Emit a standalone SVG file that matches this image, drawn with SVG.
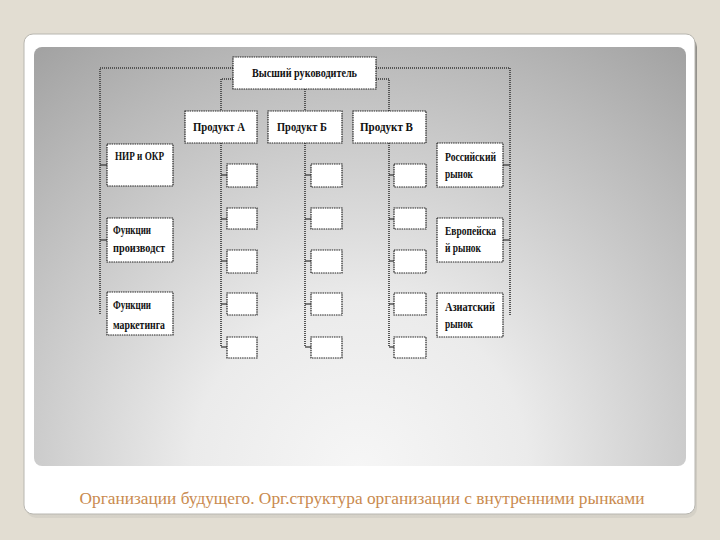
<svg xmlns="http://www.w3.org/2000/svg" width="720" height="540" viewBox="0 0 720 540">
<defs>
<radialGradient id="pg" gradientUnits="userSpaceOnUse" cx="360" cy="470" r="560">
<stop offset="0" stop-color="#f6f6f6"/>
<stop offset="0.3" stop-color="#ebebeb"/>
<stop offset="0.75" stop-color="#b9b9b9"/>
<stop offset="1" stop-color="#9c9c9c"/>
</radialGradient>
<linearGradient id="cardShadow" x1="0" y1="0" x2="0" y2="1">
<stop offset="0" stop-color="#8f8d88"/>
<stop offset="1" stop-color="#d6d2c8"/>
</linearGradient>
</defs>
<style>
.box{fill:#ffffff;stroke:#222;stroke-width:1.2;stroke-dasharray:1.5 0.8}
.lnk{fill:none;stroke:#555;stroke-width:2;stroke-dasharray:1 1}
.t{font-family:"Liberation Serif",serif;font-weight:bold;font-size:11.5px;fill:#111}
.cap{font-family:"Liberation Serif",serif;font-size:16px;fill:#c98a4e}
</style>
<rect x="0" y="0" width="720" height="540" fill="#e2ddd2"/>
<!-- card -->
<rect x="26" y="37" width="671" height="481" rx="10" fill="url(#cardShadow)"/>
<rect x="24" y="34" width="671" height="480" rx="9" fill="#ffffff" stroke="#b8b6b0" stroke-width="1"/>
<rect x="34" y="47" width="652" height="419" rx="8" fill="url(#pg)"/>
<text class="cap" x="362" y="504" text-anchor="middle" textLength="565" lengthAdjust="spacingAndGlyphs">Организации будущего. Орг.структура организации с внутренними рынками</text>

<g id="connectors">
<polyline class="lnk" points="233,68 100,68 100,315"/>
<polyline class="lnk" points="376,68 510,68 510,315"/>
<polyline class="lnk" points="233,79 221,79 221,111"/>
<polyline class="lnk" points="376,79 389,79 389,111"/>
<line class="lnk" x1="305" y1="89" x2="305" y2="111"/>
<line class="lnk" x1="221" y1="143" x2="221" y2="347"/>
<line class="lnk" x1="305" y1="143" x2="305" y2="347"/>
<line class="lnk" x1="389" y1="143" x2="389" y2="347"/>
<g stroke="#333" stroke-width="1.2">
<line x1="100" y1="165" x2="107" y2="165"/>
<line x1="100" y1="240" x2="107" y2="240"/>
<line x1="510" y1="165" x2="503" y2="165"/>
<line x1="510" y1="240" x2="503" y2="240"/>
<line x1="221" y1="175" x2="227" y2="175"/>
<line x1="221" y1="219" x2="227" y2="219"/>
<line x1="221" y1="261" x2="227" y2="261"/>
<line x1="221" y1="304" x2="227" y2="304"/>
<line x1="221" y1="347" x2="227" y2="347"/>
<line x1="305" y1="175" x2="311" y2="175"/>
<line x1="305" y1="219" x2="311" y2="219"/>
<line x1="305" y1="261" x2="311" y2="261"/>
<line x1="305" y1="304" x2="311" y2="304"/>
<line x1="305" y1="347" x2="311" y2="347"/>
<line x1="389" y1="175" x2="394" y2="175"/>
<line x1="389" y1="219" x2="394" y2="219"/>
<line x1="389" y1="261" x2="394" y2="261"/>
<line x1="389" y1="304" x2="394" y2="304"/>
<line x1="389" y1="347" x2="394" y2="347"/>
</g>
</g>

<g id="top">
<rect class="box" x="233" y="57" width="143" height="32"/>
<text class="t" x="252" y="77" textLength="105" lengthAdjust="spacingAndGlyphs">Высший руководитель</text>
</g>
<g id="prodA">
<rect class="box" x="185" y="111" width="72" height="32"/>
<text class="t" x="193" y="131" textLength="52" lengthAdjust="spacingAndGlyphs">Продукт А</text>
</g>
<g id="prodB">
<rect class="box" x="268" y="111" width="74" height="32"/>
<text class="t" x="277" y="131" textLength="50" lengthAdjust="spacingAndGlyphs">Продукт Б</text>
</g>
<g id="prodV">
<rect class="box" x="353" y="111" width="73" height="32"/>
<text class="t" x="360" y="131" textLength="53" lengthAdjust="spacingAndGlyphs">Продукт В</text>
</g>

<g id="nir">
<rect class="box" x="107" y="144" width="66" height="42"/>
<text class="t" x="115" y="160" textLength="49" lengthAdjust="spacingAndGlyphs">НИР и ОКР</text>
</g>
<g id="prod-func">
<rect class="box" x="107" y="218" width="66" height="44"/>
<text class="t" x="113" y="234" textLength="38" lengthAdjust="spacingAndGlyphs">Функции</text>
<text class="t" x="113" y="252" textLength="52" lengthAdjust="spacingAndGlyphs">производст</text>
</g>
<g id="mark-func">
<rect class="box" x="107" y="292" width="66" height="43"/>
<text class="t" x="113" y="309" textLength="38" lengthAdjust="spacingAndGlyphs">Функции</text>
<text class="t" x="113" y="329" textLength="52" lengthAdjust="spacingAndGlyphs">маркетинга</text>
</g>

<g id="ru">
<rect class="box" x="437" y="143" width="66" height="44"/>
<text class="t" x="445" y="161" textLength="51" lengthAdjust="spacingAndGlyphs">Российский</text>
<text class="t" x="445" y="178" textLength="28" lengthAdjust="spacingAndGlyphs">рынок</text>
</g>
<g id="eu">
<rect class="box" x="437" y="218" width="66" height="44"/>
<text class="t" x="445" y="235" textLength="51" lengthAdjust="spacingAndGlyphs">Европейска</text>
<text class="t" x="445" y="252" textLength="36" lengthAdjust="spacingAndGlyphs">й рынок</text>
</g>
<g id="asia">
<rect class="box" x="437" y="293" width="66" height="44"/>
<text class="t" x="445" y="311" textLength="50" lengthAdjust="spacingAndGlyphs">Азиатский</text>
<text class="t" x="445" y="328" textLength="28" lengthAdjust="spacingAndGlyphs">рынок</text>
</g>

<g id="small-boxes">
<rect class="box" x="227" y="164" width="30" height="23"/>
<rect class="box" x="227" y="208" width="30" height="21"/>
<rect class="box" x="227" y="250" width="30" height="23"/>
<rect class="box" x="227" y="293" width="30" height="22"/>
<rect class="box" x="227" y="337" width="30" height="21"/>
<rect class="box" x="311" y="164" width="31" height="23"/>
<rect class="box" x="311" y="208" width="31" height="21"/>
<rect class="box" x="311" y="250" width="31" height="23"/>
<rect class="box" x="311" y="293" width="31" height="22"/>
<rect class="box" x="311" y="337" width="31" height="21"/>
<rect class="box" x="394" y="164" width="32" height="23"/>
<rect class="box" x="394" y="208" width="32" height="21"/>
<rect class="box" x="394" y="250" width="32" height="23"/>
<rect class="box" x="394" y="293" width="32" height="22"/>
<rect class="box" x="394" y="337" width="32" height="21"/>
</g>
</svg>
